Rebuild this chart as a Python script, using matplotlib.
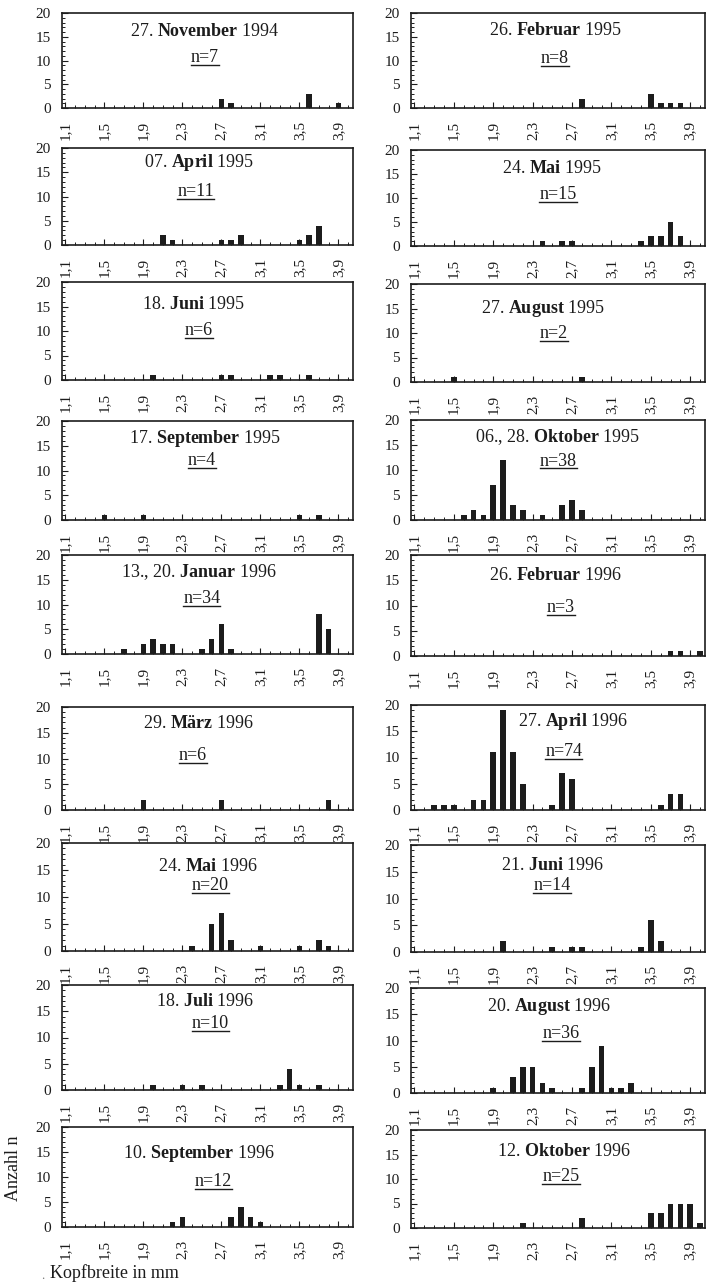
import matplotlib
matplotlib.use("Agg")
import matplotlib.pyplot as plt
from matplotlib.lines import Line2D

plt.rcParams['font.family'] = ['Liberation Serif', 'DejaVu Serif']
plt.rcParams['mathtext.fontset'] = 'custom'
plt.rcParams['mathtext.rm'] = 'Liberation Serif'
plt.rcParams['mathtext.bf'] = 'Liberation Serif:bold'
plt.rcParams['mathtext.it'] = 'Liberation Serif:italic'

# Kopfbreite (mm) classes and counts, one pair of lists per sampling date
nov94_x = [2.7, 2.8, 3.6, 3.9]
nov94_n = [2, 1, 3, 1]
feb95_x = [2.8, 3.5, 3.6, 3.7, 3.8]
feb95_n = [2, 3, 1, 1, 1]
apr95_x = [2.1, 2.2, 2.7, 2.8, 2.9, 3.5, 3.6, 3.7]
apr95_n = [2, 1, 1, 1, 2, 1, 2, 4]
mai95_x = [2.4, 2.6, 2.7, 3.4, 3.5, 3.6, 3.7, 3.8]
mai95_n = [1, 1, 1, 1, 2, 2, 5, 2]
jun95_x = [2.0, 2.7, 2.8, 3.2, 3.3, 3.6]
jun95_n = [1, 1, 1, 1, 1, 1]
aug95_x = [1.5, 2.8]
aug95_n = [1, 1]
sep95_x = [1.5, 1.9, 3.5, 3.7]
sep95_n = [1, 1, 1, 1]
okt95_x = [1.6, 1.7, 1.8, 1.9, 2.0, 2.1, 2.2, 2.4, 2.6, 2.7, 2.8]
okt95_n = [1, 2, 1, 7, 12, 3, 2, 1, 3, 4, 2]
jan96_x = [1.7, 1.9, 2.0, 2.1, 2.2, 2.5, 2.6, 2.7, 2.8, 3.7, 3.8]
jan96_n = [1, 2, 3, 2, 2, 1, 3, 6, 1, 8, 5]
feb96_x = [3.7, 3.8, 4.0]
feb96_n = [1, 1, 1]
mar96_x = [1.9, 2.7, 3.8]
mar96_n = [2, 2, 2]
apr96_x = [1.3, 1.4, 1.5, 1.7, 1.8, 1.9, 2.0, 2.1, 2.2, 2.5, 2.6, 2.7, 3.6, 3.7, 3.8]
apr96_n = [1, 1, 1, 2, 2, 11, 19, 11, 5, 1, 7, 6, 1, 3, 3]
mai96_x = [2.4, 2.6, 2.7, 2.8, 3.1, 3.5, 3.7, 3.8]
mai96_n = [1, 5, 7, 2, 1, 1, 2, 1]
jun96_x = [2.0, 2.5, 2.7, 2.8, 3.4, 3.5, 3.6]
jun96_n = [2, 1, 1, 1, 1, 6, 2]
jul96_x = [2.0, 2.3, 2.5, 3.3, 3.4, 3.5, 3.7]
jul96_n = [1, 1, 1, 1, 4, 1, 1]
aug96_x = [1.9, 2.1, 2.2, 2.3, 2.4, 2.5, 2.8, 2.9, 3.0, 3.1, 3.2, 3.3]
aug96_n = [1, 3, 5, 5, 2, 1, 1, 5, 9, 1, 1, 2]
sep96_x = [2.2, 2.3, 2.8, 2.9, 3.0, 3.1]
sep96_n = [1, 2, 2, 4, 2, 1]
okt96_x = [2.2, 2.8, 3.5, 3.6, 3.7, 3.8, 3.9, 4.0]
okt96_n = [1, 2, 3, 3, 5, 5, 5, 1]

titles = [
    ("27.", "November", "1994"), ("26.", "Februar", "1995"),
    ("07.", "April", "1995"), ("24.", "Mai", "1995"),
    ("18.", "Juni", "1995"), ("27.", "August", "1995"),
    ("17.", "September", "1995"), ("06., 28.", "Oktober", "1995"),
    ("13., 20.", "Januar", "1996"), ("26.", "Februar", "1996"),
    ("29.", "März", "1996"), ("27.", "April", "1996"),
    ("24.", "Mai", "1996"), ("21.", "Juni", "1996"),
    ("18.", "Juli", "1996"), ("20.", "August", "1996"),
    ("10.", "September", "1996"), ("12.", "Oktober", "1996"),
]
series = [
    (nov94_x, nov94_n), (feb95_x, feb95_n), (apr95_x, apr95_n), (mai95_x, mai95_n),
    (jun95_x, jun95_n), (aug95_x, aug95_n), (sep95_x, sep95_n), (okt95_x, okt95_n),
    (jan96_x, jan96_n), (feb96_x, feb96_n), (mar96_x, mar96_n), (apr96_x, apr96_n),
    (mai96_x, mai96_n), (jun96_x, jun96_n), (jul96_x, jul96_n), (aug96_x, aug96_n),
    (sep96_x, sep96_n), (okt96_x, okt96_n),
]
n_totals = [7, 8, 11, 15, 6, 2, 4, 38, 34, 3, 6, 74, 20, 14, 10, 36, 12, 25]

major_ticks = [1.1, 1.5, 1.9, 2.3, 2.7, 3.1, 3.5, 3.9]
major_labels = ["1,1", "1,5", "1,9", "2,3", "2,7", "3,1", "3,5", "3,9"]
minor_ticks = [1.1, 1.2, 1.3, 1.4, 1.5, 1.6, 1.7, 1.8, 1.9, 2.0, 2.1, 2.2, 2.3, 2.4, 2.5,
               2.6, 2.7, 2.8, 2.9, 3.0, 3.1, 3.2, 3.3, 3.4, 3.5, 3.6, 3.7, 3.8, 3.9, 4.0]

# layout in pixels: (top, bottom) of each box, per row, left and right column
W, H = 706, 1283
rows_left = [(13, 108), (148, 245), (282, 380), (421, 520), (555, 654),
             (707, 810), (843, 951), (985, 1090), (1127, 1227)]
rows_right = [(13, 108), (150, 246), (284, 382), (420, 520), (555, 656),
              (705, 810), (845, 952), (988, 1093), (1130, 1228)]
col_x = [(62, 353), (411, 705)]
# (title x, title y, n x, n y) in axes fractions
text_pos = [
    (0.49, 0.81, 0.49, 0.53), (0.49, 0.82, 0.49, 0.52),
    (0.47, 0.85, 0.46, 0.55), (0.48, 0.81, 0.50, 0.54),
    (0.45, 0.77, 0.47, 0.51), (0.45, 0.75, 0.485, 0.50),
    (0.49, 0.82, 0.48, 0.60), (0.50, 0.83, 0.50, 0.59),
    (0.47, 0.83, 0.48, 0.56), (0.49, 0.80, 0.51, 0.48),
    (0.47, 0.84, 0.45, 0.53), (0.55, 0.84, 0.52, 0.56),
    (0.50, 0.78, 0.51, 0.61), (0.48, 0.81, 0.48, 0.625),
    (0.49, 0.84, 0.51, 0.63), (0.47, 0.825, 0.51, 0.57),
    (0.47, 0.74, 0.52, 0.46), (0.52, 0.78, 0.51, 0.53),
]

fig = plt.figure(figsize=(7.06, 12.83), dpi=100)
ink = '#1c1c1c'

n_labels = []
for i, ((xs, ns), (d, month, year)) in enumerate(zip(series, titles)):
    row, col = divmod(i, 2)
    top, bot = (rows_left if col == 0 else rows_right)[row]
    x0, x1 = col_x[col]
    ax = fig.add_axes([x0 / W, 1 - bot / H, (x1 - x0) / W, (bot - top) / H])
    ax.bar(xs, ns, width=0.058, color=ink, linewidth=0)
    ax.set_xlim(1.065, 4.05)
    ax.set_ylim(0, 20)
    ax.set_yticks([0, 5, 10, 15, 20])
    ax.set_yticks(list(range(21)), minor=True)
    ax.set_xticks(major_ticks)
    ax.set_xticklabels(major_labels, rotation=90)
    ax.set_xticks(minor_ticks, minor=True)
    ax.tick_params(which='major', direction='in', length=4, width=0.8, labelsize=11,
                   colors=ink, pad=9)
    ax.tick_params(axis='y', which='major', pad=8)
    ax.tick_params(which='minor', direction='in', length=2.5, width=0.7, colors=ink)
    for sp in ax.spines.values():
        sp.set_linewidth(1.2)
        sp.set_color(ink)

    tx, ty, nx, ny = text_pos[i]
    ax.text(tx, ty, d + r" $\mathbf{" + month + "}$ " + year, transform=ax.transAxes,
            ha='center', va='center', fontsize=13, color=ink)
    t = ax.text(nx, ny, "n=%d" % n_totals[i], transform=ax.transAxes,
                ha='center', va='center', fontsize=13, color=ink)
    n_labels.append(t)

fig.text(13 / W, 1 - 1168 / H, "Anzahl n", rotation=90, ha='center', va='center',
         fontsize=13, color=ink)
fig.text(50 / W, 1 - 1273 / H, "Kopfbreite in mm", ha='left', va='center',
         fontsize=13, color=ink)
fig.text(43 / W, 1 - 1276 / H, ".", ha='center', va='center', fontsize=9, color='#777777')

# underline the n= labels
fig.canvas.draw()
renderer = fig.canvas.get_renderer()
inv = fig.transFigure.inverted()
for t in n_labels:
    bb = t.get_window_extent(renderer)
    (ax0, ay0), (ax1, _) = inv.transform([(bb.x0, bb.y0 + 1), (bb.x1, bb.y0)])
    fig.add_artist(Line2D([ax0, ax1], [ay0, ay0], transform=fig.transFigure,
                          color=ink, linewidth=1.0))

fig.savefig("out.png", dpi=100)
